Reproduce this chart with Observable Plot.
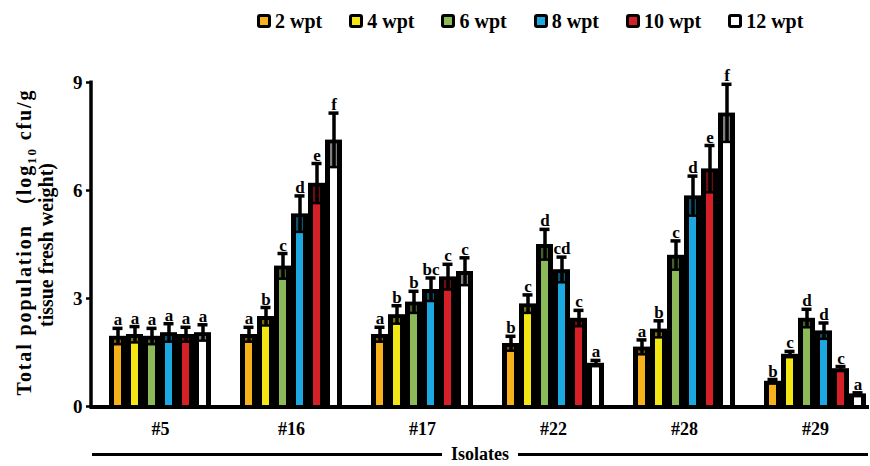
<!DOCTYPE html>
<html><head><meta charset="utf-8">
<script src="https://cdn.jsdelivr.net/npm/d3@7"></script>
<script src="https://cdn.jsdelivr.net/npm/@observablehq/plot@0.6"></script>
<style>
html,body{margin:0;padding:0;background:#fff;}
body{position:relative;width:870px;height:466px;overflow:hidden;font-family:"Liberation Serif","Times New Roman",serif;font-weight:bold;color:#000;}
#legend{position:absolute;left:257px;top:8px;height:26px;display:flex;align-items:center;font-size:20px;white-space:nowrap;}
#legend .item{display:flex;align-items:center;margin-right:27px;}
#legend .sw{display:inline-block;width:8px;height:8px;border:3.5px solid #000;border-radius:3px;margin-right:4px;}
#chart{position:absolute;left:0;top:40px;}
#xtitle{position:absolute;left:92px;top:442px;width:776px;height:24px;display:flex;align-items:center;font-size:18px;}
#xtitle .ln{flex:1;border-top:3px solid #000;height:0;}
#xtitle .tx{margin:0 9px;line-height:1;}
</style></head><body>
<div id="legend"></div>
<div id="chart"></div>
<div id="xtitle"><span class="ln"></span><span class="tx">Isolates</span><span class="ln"></span></div>
<script>
const isolates = ["#5", "#16", "#17", "#22", "#28", "#29"];
const weeks = ["2 wpt", "4 wpt", "6 wpt", "8 wpt", "10 wpt", "12 wpt"];
const weekColors = ["#F7B11A", "#F2E614", "#8CBA58", "#1CA9E1", "#D71F27", "#FFFFFF"];

// means (log10 cfu/g tissue fresh weight) per isolate, weeks 2..12
const mean5  = [1.95, 2.0, 1.95, 2.05, 2.0, 2.05];
const mean16 = [2.0, 2.5, 3.9, 5.35, 6.2, 7.4];
const mean17 = [2.0, 2.55, 2.9, 3.25, 3.6, 3.75];
const mean22 = [1.75, 2.85, 4.5, 3.8, 2.45, 1.2];
const mean28 = [1.65, 2.15, 4.2, 5.85, 6.6, 8.15];
const mean29 = [0.7, 1.45, 2.45, 2.1, 1.05, 0.35];

// standard errors
const err5  = [0.22, 0.22, 0.22, 0.25, 0.2, 0.22];
const err16 = [0.2, 0.25, 0.35, 0.5, 0.55, 0.75];
const err17 = [0.2, 0.25, 0.3, 0.32, 0.35, 0.38];
const err22 = [0.2, 0.25, 0.42, 0.35, 0.22, 0.08];
const err28 = [0.2, 0.23, 0.4, 0.55, 0.65, 0.8];
const err29 = [0.05, 0.08, 0.25, 0.22, 0.06, 0.03];

// significance letters
const let5  = ["a", "a", "a", "a", "a", "a"];
const let16 = ["a", "b", "c", "d", "e", "f"];
const let17 = ["a", "b", "b", "bc", "c", "c"];
const let22 = ["b", "c", "d", "cd", "c", "a"];
const let28 = ["a", "b", "c", "d", "e", "f"];
const let29 = ["b", "c", "d", "d", "c", "a"];

const yTicks = [0, 3, 6, 9];

const means = [mean5, mean16, mean17, mean22, mean28, mean29];
const errs = [err5, err16, err17, err22, err28, err29];
const lets = [let5, let16, let17, let22, let28, let29];

const rows = [];
isolates.forEach((iso, i) => weeks.forEach((w, j) => rows.push({
  iso, week: w, mean: means[i][j], err: errs[i][j], letter: lets[i][j]
})));

// legend
const legend = d3.select("#legend");
weeks.forEach((w, j) => {
  const it = legend.append("span").attr("class", "item");
  it.append("span").attr("class", "sw").style("background", weekColors[j]);
  it.append("span").text(w);
});

const chart = Plot.plot({
  width: 870,
  height: 400,
  marginLeft: 91,
  marginRight: 2,
  marginTop: 42,
  marginBottom: 34,
  style: {fontFamily: "'Liberation Serif', 'Times New Roman', serif", fontWeight: "bold", fontSize: "18px", color: "#000", background: "#fff", overflow: "visible"},
  fx: {domain: isolates, paddingInner: 0.191, paddingOuter: 0.061, align: 1, label: null},
  x: {domain: weeks, padding: 0, axis: null},
  y: {domain: [0, 9], ticks: yTicks},
  color: {domain: weeks, range: weekColors},
  marks: [
    Plot.barY(rows, {fx: "iso", x: "week", y: "mean", fill: "#000"}),
    Plot.barY(rows, {fx: "iso", x: "week", y: "mean", fill: "week", insetLeft: 5, insetRight: 5, insetTop: 4}),
    Plot.barY(rows, {fx: "iso", x: "week", y1: d => d.mean - d.err, y2: "mean", fill: "#000", fillOpacity: 0.5, insetLeft: 5, insetRight: 5, insetTop: 4}),
    Plot.ruleX(rows, {fx: "iso", x: "week", y1: d => d.mean - d.err, y2: d => d.mean + d.err, stroke: "#000", strokeWidth: 3.5}),
    Plot.tickY(rows, {fx: "iso", x: "week", y: d => d.mean + d.err, stroke: "#000", strokeWidth: 3.5, insetLeft: 3.5, insetRight: 3.5}),
    Plot.tickY(rows, {fx: "iso", x: "week", y: d => d.mean - d.err, stroke: "#000", strokeWidth: 2.5, insetLeft: 5, insetRight: 5}),
    Plot.text(rows, {fx: "iso", x: "week", y: d => d.mean + d.err, text: "letter", lineAnchor: "bottom", dy: -3, fontSize: 17, fontWeight: "bold", fill: "#000"}),
    Plot.axisY({ticks: yTicks, tickSize: 5, tickPadding: 4, label: null, fontSize: 19, strokeWidth: 2.5, dx: -16, tickFormat: d3.format("d")}),
    Plot.axisFx({anchor: "bottom", tickSize: 0, tickPadding: 16, label: null, fontSize: 18})
  ]
});
document.getElementById("chart").appendChild(chart);

// axis lines and y title
const svg = d3.select(chart);
const ys = chart.scale("y");
const y0 = ys.apply(0), y9 = ys.apply(9);
svg.append("line").attr("x1", 91).attr("x2", 91).attr("y1", y9 - 1.5).attr("y2", y0 + 2)
  .attr("stroke", "#000").attr("stroke-width", 3.5);
svg.append("line").attr("x1", 89.5).attr("x2", 869).attr("y1", y0 + 1).attr("y2", y0 + 1)
  .attr("stroke", "#000").attr("stroke-width", 4);

const cy = (y0 + y9) / 2 - 1;
const t1 = svg.append("text").attr("transform", `translate(31,${cy}) rotate(-90)`)
  .attr("text-anchor", "middle").attr("font-size", 20).attr("font-weight", "bold").attr("fill", "#000")
  .attr("textLength", 305).attr("lengthAdjust", "spacing");
t1.append("tspan").text("Total population\u00a0\u00a0\u00a0(log");
t1.append("tspan").attr("font-size", 13).attr("dy", 5).text("10");
t1.append("tspan").attr("dy", -5).text(" cfu/g");
svg.append("text").attr("transform", `translate(53,${cy + 2}) rotate(-90)`)
  .attr("text-anchor", "middle").attr("font-size", 20).attr("font-weight", "bold").attr("fill", "#000")
  .text("tissue fresh weight)");
</script>
</body></html>
